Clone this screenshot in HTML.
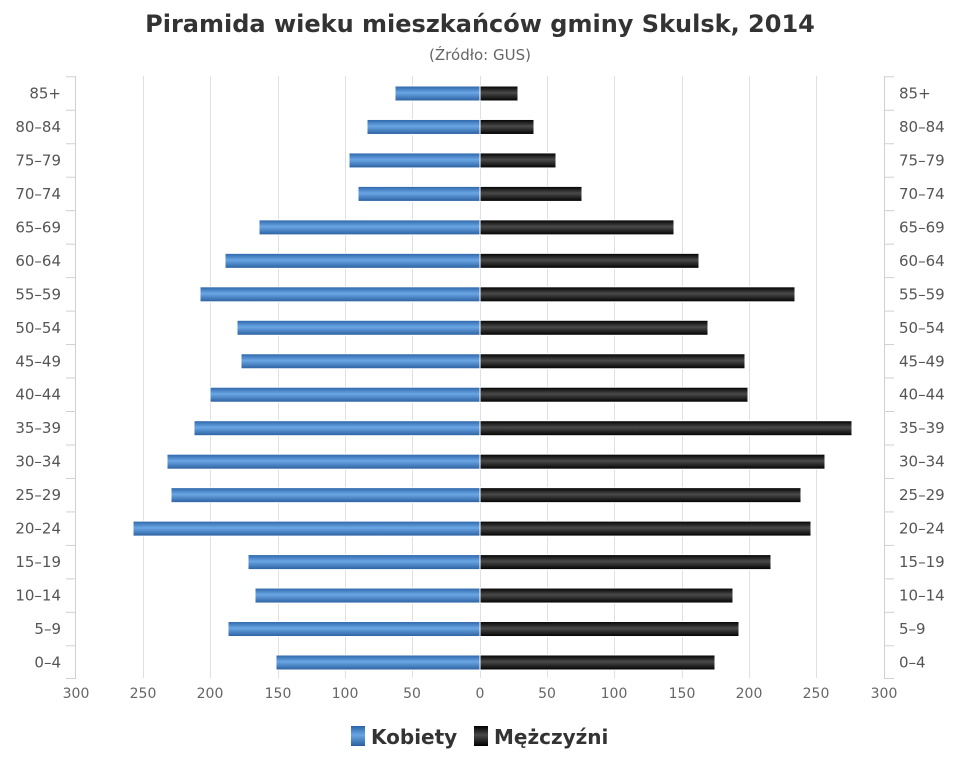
<!DOCTYPE html>
<html><head><meta charset="utf-8"><style>
body{margin:0;background:#fff;}
svg text{font-family:"DejaVu Sans","Liberation Sans",sans-serif;}
</style></head><body>
<svg width="960" height="768" xmlns="http://www.w3.org/2000/svg">
<defs>
<linearGradient id="b" x1="0" y1="0" x2="0" y2="1">
<stop offset="0" stop-color="#2b64a8"/><stop offset="0.45" stop-color="#6aa6e4"/><stop offset="1" stop-color="#2a5f9f"/></linearGradient>
<linearGradient id="k" x1="0" y1="0" x2="0" y2="1">
<stop offset="0" stop-color="#000"/><stop offset="0.45" stop-color="#4a4a4a"/><stop offset="1" stop-color="#000"/></linearGradient>
</defs>
<text x="480" y="32" text-anchor="middle" font-size="24" font-weight="bold" fill="#333">Piramida wieku mieszkańców gminy Skulsk, 2014</text>
<text x="480" y="60" text-anchor="middle" font-size="15" fill="#666">(Źródło: GUS)</text>
<g stroke="#e0e0e0" stroke-width="1">
<line x1="143.5" y1="76" x2="143.5" y2="678"/><line x1="210.5" y1="76" x2="210.5" y2="678"/><line x1="278.5" y1="76" x2="278.5" y2="678"/><line x1="345.5" y1="76" x2="345.5" y2="678"/><line x1="412.5" y1="76" x2="412.5" y2="678"/><line x1="480.5" y1="76" x2="480.5" y2="678"/><line x1="547.5" y1="76" x2="547.5" y2="678"/><line x1="614.5" y1="76" x2="614.5" y2="678"/><line x1="682.5" y1="76" x2="682.5" y2="678"/><line x1="749.5" y1="76" x2="749.5" y2="678"/><line x1="816.5" y1="76" x2="816.5" y2="678"/>
</g>
<g stroke="#d0d0d0" stroke-width="1">
<line x1="75.5" y1="76" x2="75.5" y2="678"/><line x1="884.5" y1="76" x2="884.5" y2="678"/>
</g>
<g id="bars"></g>
<g font-size="14" fill="#666" text-anchor="middle">
<text x="76" y="698">300</text><text x="143" y="698">250</text><text x="210" y="698">200</text><text x="278" y="698">150</text><text x="345" y="698">100</text><text x="412" y="698">50</text><text x="480" y="698">0</text><text x="547" y="698">50</text><text x="614" y="698">100</text><text x="682" y="698">150</text><text x="749" y="698">200</text><text x="816" y="698">250</text><text x="884" y="698">300</text>
</g>
<rect x="351" y="726" width="14" height="20" fill="url(#b)"/>
<text x="371" y="744" font-size="20" font-weight="bold" fill="#333">Kobiety</text>
<rect x="474" y="726" width="14" height="20" fill="url(#k)"/>
<text x="494" y="744" font-size="20" font-weight="bold" fill="#333">Mężczyźni</text>
</svg>
<script>
var labels=["85+","80-84","75-79","70-74","65-69","60-64","55-59","50-54","45-49","40-44","35-39","30-34","25-29","20-24","15-19","10-14","5-9","0-4"];
var L=[395,367,349,358,259,225,200,237,241,210,194,167,171,133,248,255,228,276];
var R=[518,534,556,582,674,699,795,708,745,748,852,825,801,811,771,733,739,715];
var g=document.getElementById("bars"),s="";
for(var i=0;i<18;i++){var c=93.5+i*33.47;
s+='<rect x="'+L[i]+'" y="'+(c-7.5)+'" width="'+(480-L[i])+'" height="15" fill="url(#b)" stroke="#fff" stroke-width="1"/>';
s+='<rect x="480" y="'+(c-7.5)+'" width="'+(R[i]-480)+'" height="15" fill="url(#k)" stroke="#fff" stroke-width="1"/>';
var lb=labels[i].replace("-","–");
s+='<text x="61" y="'+(c+5)+'" text-anchor="end" font-size="15" fill="#555">'+lb+'</text>';
s+='<text x="899" y="'+(c+5)+'" font-size="15" fill="#555">'+lb+'</text>';
var ty=c-16.7;
s+='<line x1="66" y1="'+ty+'" x2="76" y2="'+ty+'" stroke="#d0d0d0"/><line x1="884" y1="'+ty+'" x2="894" y2="'+ty+'" stroke="#d0d0d0"/>';}
s+='<line x1="66" y1="678.5" x2="76" y2="678.5" stroke="#d0d0d0"/><line x1="884" y1="678.5" x2="894" y2="678.5" stroke="#d0d0d0"/>';
g.innerHTML=s;
</script>
</body></html>
